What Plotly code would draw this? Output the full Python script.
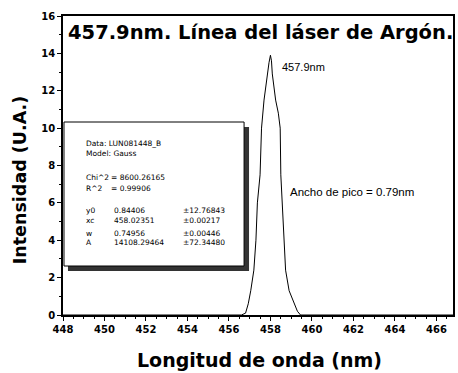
import plotly.graph_objects as go

# ---- data ----
wavelength_nm = [448.0, 456.6, 456.8, 456.93, 457.05, 457.2, 457.3, 457.37, 457.5, 457.57,
                 457.69, 457.78, 457.85, 457.93, 458.0, 458.05, 458.09, 458.17, 458.25,
                 458.38, 458.47, 458.5, 458.57, 458.65, 458.73, 458.9, 459.13, 459.3,
                 459.45, 466.8]
intensity_ua = [0.0, 0.0, 0.1, 0.6, 1.3, 2.4, 4.0, 6.0, 7.5, 10.0,
                11.5, 12.3, 12.9, 13.5, 13.9, 13.6, 12.9, 12.2, 11.5,
                10.8, 10.0, 7.5, 6.0, 4.0, 2.4, 1.3, 0.6, 0.2,
                0.0, 0.0]

x_ticks = [448, 450, 452, 454, 456, 458, 460, 462, 464, 466]
y_ticks = [0, 2, 4, 6, 8, 10, 12, 14, 16]

fit_labels = ["y0", "xc", "w", "A"]
fit_values = ["0.84406", "458.02351", "0.74956", "14108.29464"]
fit_errors = ["\u00b112.76843", "\u00b10.00217", "\u00b10.00446", "\u00b172.34480"]

FONT = "Arial, Liberation Sans, sans-serif"
WIDE = "DejaVu Sans, sans-serif"
W, H = 458, 373
L, R, T, B = 63, 3, 16, 58
PW, PH = W - L - R, H - T - B


def px(x):
    return (x - L) / PW


def py(y):
    return (H - B - y) / PH


fig = go.Figure()
fig.add_trace(go.Scatter(x=wavelength_nm, y=intensity_ua, mode="lines",
                         line=dict(color="black", width=1), showlegend=False))

shapes = [
    dict(type="rect", xref="paper", yref="paper", x0=px(68), x1=px(250), y0=py(271), y1=py(127),
         fillcolor="#333333", line=dict(width=0), layer="above"),
    dict(type="rect", xref="paper", yref="paper", x0=px(64), x1=px(245), y0=py(266), y1=py(122),
         fillcolor="white", line=dict(color="black", width=1), layer="above"),
]

ann = []


def txt(x, y, s, size, bold=False, anchor="left", family=FONT):
    ann.append(dict(xref="paper", yref="paper", x=px(x), y=py(y), text=s, showarrow=False,
                    xanchor=anchor, yanchor="middle",
                    font=dict(family=family, size=size, color="black",
                              weight="bold" if bold else "normal")))


txt(66, 33, "457.9nm. L\u00ednea del l\u00e1ser de Arg\u00f3n.", 19.5, bold=True, family=WIDE)
txt(281, 67, "457.9nm", 11)
txt(289, 192, "Ancho de pico = 0.79nm", 11.5)

fs = 7.5
txt(84, 143, "Data: LUN081448_B", fs, family=WIDE)
txt(84, 153, "Model: Gauss", fs, family=WIDE)
txt(84, 177, "Chi^2", fs, family=WIDE)
txt(109, 177, "= 8600.26165", fs, family=WIDE)
txt(84, 188, "R^2", fs, family=WIDE)
txt(109, 188, "= 0.99906", fs, family=WIDE)
rows_y = [210, 220, 233, 243]
for lab, val, err, yy in zip(fit_labels, fit_values, fit_errors, rows_y):
    txt(84, yy, lab, fs, family=WIDE)
    txt(112, yy, val, fs, family=WIDE)
    txt(182, yy, err, fs, family=WIDE)

# axis titles
ann.append(dict(xref="paper", yref="paper", x=px(261), y=py(360), text="Longitud de onda (nm)",
                showarrow=False, xanchor="center", yanchor="middle",
                font=dict(family=WIDE, size=19, color="black", weight="bold")))
ann.append(dict(xref="paper", yref="paper", x=px(20), y=py(180), text="Intensidad (U.A.)",
                showarrow=False, xanchor="center", yanchor="middle", textangle=-90,
                font=dict(family=WIDE, size=17.5, color="black", weight="bold")))

fig.update_layout(
    width=W, height=H, margin=dict(l=L, r=R, t=T, b=B),
    plot_bgcolor="white", paper_bgcolor="white",
    shapes=shapes, annotations=ann, showlegend=False,
)
fig.update_xaxes(range=[448, 466.8], tickvals=x_ticks, ticks="outside", ticklen=4, tickwidth=1,
                 tickcolor="black", showline=True, linecolor="black", linewidth=1.5, mirror=True,
                 showgrid=False, zeroline=False,
                 tickfont=dict(family=WIDE, size=10, color="black", weight="bold"),
                 minor=dict(dtick=0.5, ticks="outside", ticklen=2, tickcolor="black"))
fig.update_yaxes(range=[0, 16], tickvals=y_ticks, ticks="outside", ticklen=4, tickwidth=1,
                 tickcolor="black", showline=True, linecolor="black", linewidth=1.5, mirror=True,
                 showgrid=False, zeroline=False,
                 tickfont=dict(family=WIDE, size=10, color="black", weight="bold"),
                 minor=dict(dtick=1, ticks="outside", ticklen=2, tickcolor="black"))

fig.write_html("out.html", config={"displayModeBar": False},
               post_script="document.body.style.margin='0';document.body.style.overflow='hidden';")
